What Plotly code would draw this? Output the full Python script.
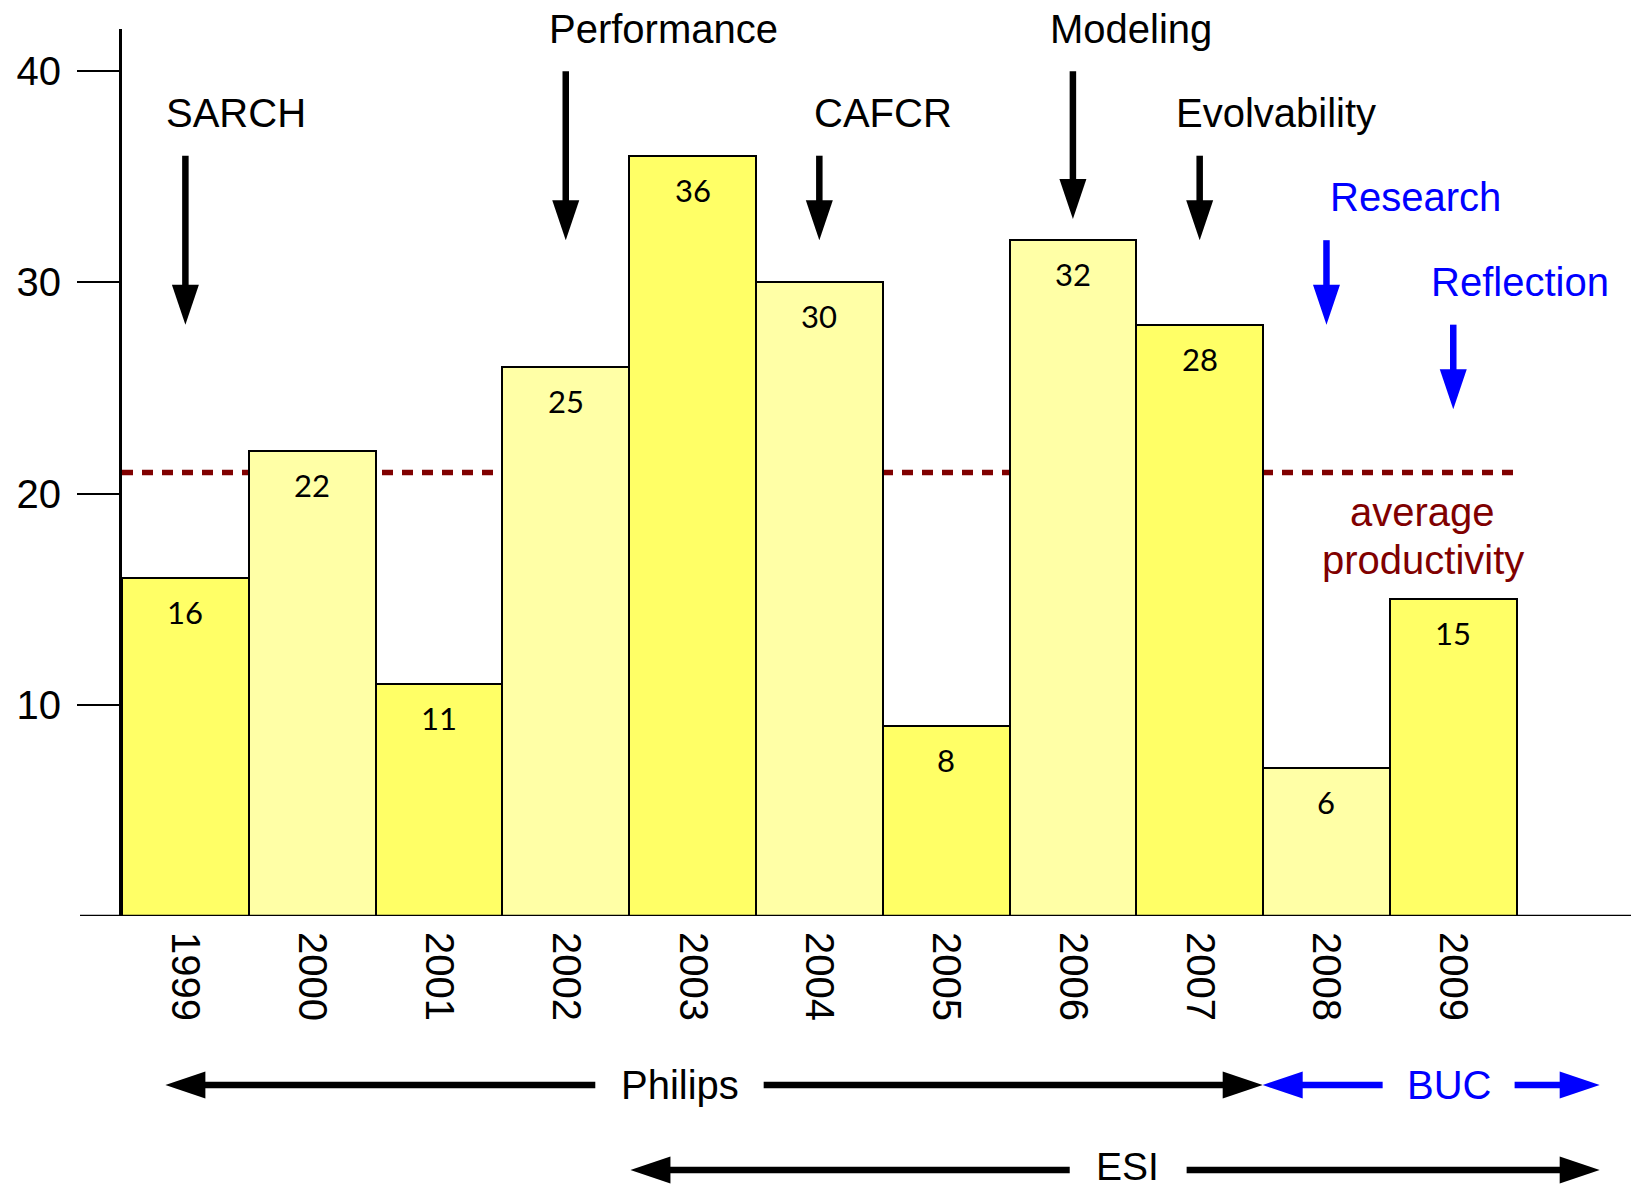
import plotly.graph_objects as go

# ---------------- data ----------------
years = ["1999", "2000", "2001", "2002", "2003", "2004", "2005", "2006", "2007", "2008", "2009"]
bar_heights = [16, 22, 11, 26, 36, 30, 9, 32, 28, 7, 15]
bar_labels = ["16", "22", "11", "25", "36", "30", "8", "32", "28", "6", "15"]
average_productivity = 21
y_ticks = [10, 20, 30, 40]

topic_names = ["SARCH", "Performance", "CAFCR", "Modeling", "Evolvability", "Research", "Reflection"]
topic_years = ["1999", "2002", "2004", "2006", "2007", "2008", "2009"]
topic_arrow_from = [36, 40, 36, 40, 36, 32, 28]
topic_arrow_to = [28, 32, 32, 33, 32, 28, 24]

# ---------------- style ----------------
BRIGHT = "#FFFF66"
PALE = "#FFFFA6"
BLUE = "#0000FF"
DARKRED = "#800000"
FONT = "Liberation Sans, Arial, sans-serif"
LABEL_FONT = "Lato, Noto Sans, sans-serif"
topic_colors = ["black"] * 5 + [BLUE] * 2
topic_text_x = [0.40, 3.77, 5.50, 7.46, 8.60, 9.70, 10.53]
topic_text_y = [38.0, 42.0, 38.0, 42.0, 38.0, 34.05, 30.0]

PAGE_OFF = 8                      # default body margin of the html page
W, H = 1639 - PAGE_OFF, 1186 - PAGE_OFF
ML, MT, MB = 122 - PAGE_OFF, 29 - PAGE_OFF, 270
HL, HH = 40, 13.5   # arrow head length / half width (px)
SHAFT = 6.5
PLOT_H = H - MT - MB
PX_PER_Y = PLOT_H / 42.0
PLOT_BOTTOM_PAGE = MT + PLOT_H + PAGE_OFF

bar_colors = [BRIGHT if i % 2 == 0 else PALE for i in range(len(years))]

fig = go.Figure()
fig.add_trace(go.Bar(
    x=years, y=bar_heights, width=1.0,
    marker=dict(color=bar_colors, line=dict(color="black", width=2)),
    hoverinfo="skip", showlegend=False,
))

shapes = []
annotations = []

# average dotted line (behind bars)
shapes.append(dict(type="line", xref="x", yref="y", x0=-0.5, x1=10.5,
                   y0=average_productivity, y1=average_productivity, layer="below",
                   line=dict(color=DARKRED, width=5.5, dash="11px,9px")))

# x axis line extending left of the y axis
shapes.append(dict(type="line", xref="paper", yref="y", x0=-42 / (W - ML), x1=1,
                   y0=0, y1=0, layer="above", line=dict(color="black", width=2.5)))

# bar value labels
for i, (h, lab) in enumerate(zip(bar_heights, bar_labels)):
    annotations.append(dict(x=i, y=h, xref="x", yref="y", text=lab, showarrow=False,
                            xanchor="center", yanchor="middle", yshift=-34,
                            font=dict(family=LABEL_FONT, size=31, color="black")))


def vhead(x, ytip, color):
    return dict(type="path", xref="x", yref="y", xsizemode="pixel", ysizemode="pixel",
                xanchor=x, yanchor=ytip, path=f"M{-HH},{HL} L{HH},{HL} L0,0 Z",
                fillcolor=color, line=dict(width=0), layer="above")


def hhead(xtip, ypaper, color, direction):
    d = 1 if direction == "right" else -1
    return dict(type="path", xref="x", yref="paper", xsizemode="pixel", ysizemode="pixel",
                xanchor=xtip, yanchor=ypaper,
                path=f"M{-d*HL},{-HH} L{-d*HL},{HH} L0,0 Z",
                fillcolor=color, line=dict(width=0), layer="above")


# topic arrows
for name, yr, y0, y1, col, tx, ty in zip(topic_names, topic_years, topic_arrow_from,
                                          topic_arrow_to, topic_colors, topic_text_x, topic_text_y):
    xi = years.index(yr)
    shapes.append(dict(type="line", xref="x", yref="y", x0=xi, x1=xi, y0=y0,
                       y1=y1 + 30 / PX_PER_Y, layer="above", line=dict(color=col, width=SHAFT)))
    shapes.append(vhead(xi, y1, col))
    annotations.append(dict(x=tx, y=ty, xref="x", yref="y", text=name, showarrow=False,
                            xanchor="center", yanchor="middle",
                            font=dict(family=FONT, size=40, color=col)))

# bottom period arrows (x in category units, y in paper units)
PX_X = (W - ML) / (11.465 + 0.5)


def period(label, x_left, x_seg_l, x_text, x_seg_r, x_right, ypaper, col, lw=SHAFT,
           text_shift=0, text_size=40):
    off = 30 / PX_X
    shapes.append(dict(type="line", xref="x", yref="paper", x0=x_left + off, x1=x_seg_l,
                       y0=ypaper, y1=ypaper, layer="above", line=dict(color=col, width=lw)))
    shapes.append(dict(type="line", xref="x", yref="paper", x0=x_seg_r, x1=x_right - off,
                       y0=ypaper, y1=ypaper, layer="above", line=dict(color=col, width=lw)))
    shapes.append(hhead(x_left, ypaper, col, "left"))
    shapes.append(hhead(x_right, ypaper, col, "right"))
    annotations.append(dict(x=x_text, y=ypaper, xref="x", yref="paper", text=label,
                            showarrow=False, xanchor="center", yanchor="middle",
                            yshift=text_shift,
                            font=dict(family=FONT, size=text_size, color=col)))


y_row1 = (PLOT_BOTTOM_PAGE - 1085) / PLOT_H
y_row2 = (PLOT_BOTTOM_PAGE - 1170) / PLOT_H
period("Philips", -0.158, 3.233, 3.90, 4.561, 8.497, y_row1, "black")
period("BUC", 8.497, 9.443, 9.964, 10.484, 11.155, y_row1, BLUE)
period("ESI", 3.51, 6.975, 7.432, 7.897, 11.155, y_row2, "black", text_shift=4, text_size=39)

# average productivity text
annotations.append(dict(x=9.76, y=19.14, xref="x", yref="y", text="average",
                        showarrow=False, xanchor="center", yanchor="middle",
                        font=dict(family=FONT, size=40, color=DARKRED)))
annotations.append(dict(x=9.76, y=16.87, xref="x", yref="y", text="productivity",
                        showarrow=False, xanchor="center", yanchor="middle",
                        font=dict(family=FONT, size=40, color=DARKRED)))

fig.update_layout(
    width=W, height=H,
    margin=dict(l=ML, r=0, t=MT, b=MB),
    paper_bgcolor="white", plot_bgcolor="white",
    bargap=0,
    shapes=shapes, annotations=annotations,
    showlegend=False,
    xaxis=dict(type="category", categoryorder="array", categoryarray=years,
               range=[-0.5, 11.465], showgrid=False, zeroline=False, showline=False,
               ticks="", tickangle=90, ticklabelstandoff=15,
               tickfont=dict(family=FONT, size=40, color="black")),
    yaxis=dict(range=[0, 42], showgrid=False, zeroline=False, showline=True,
               linecolor="black", linewidth=3, ticks="outside", ticklen=42,
               tickwidth=2, tickcolor="black", tickvals=y_ticks,
               ticklabelstandoff=8,
               tickfont=dict(family=FONT, size=40, color="black")),
)

fig.write_html("out.html")
